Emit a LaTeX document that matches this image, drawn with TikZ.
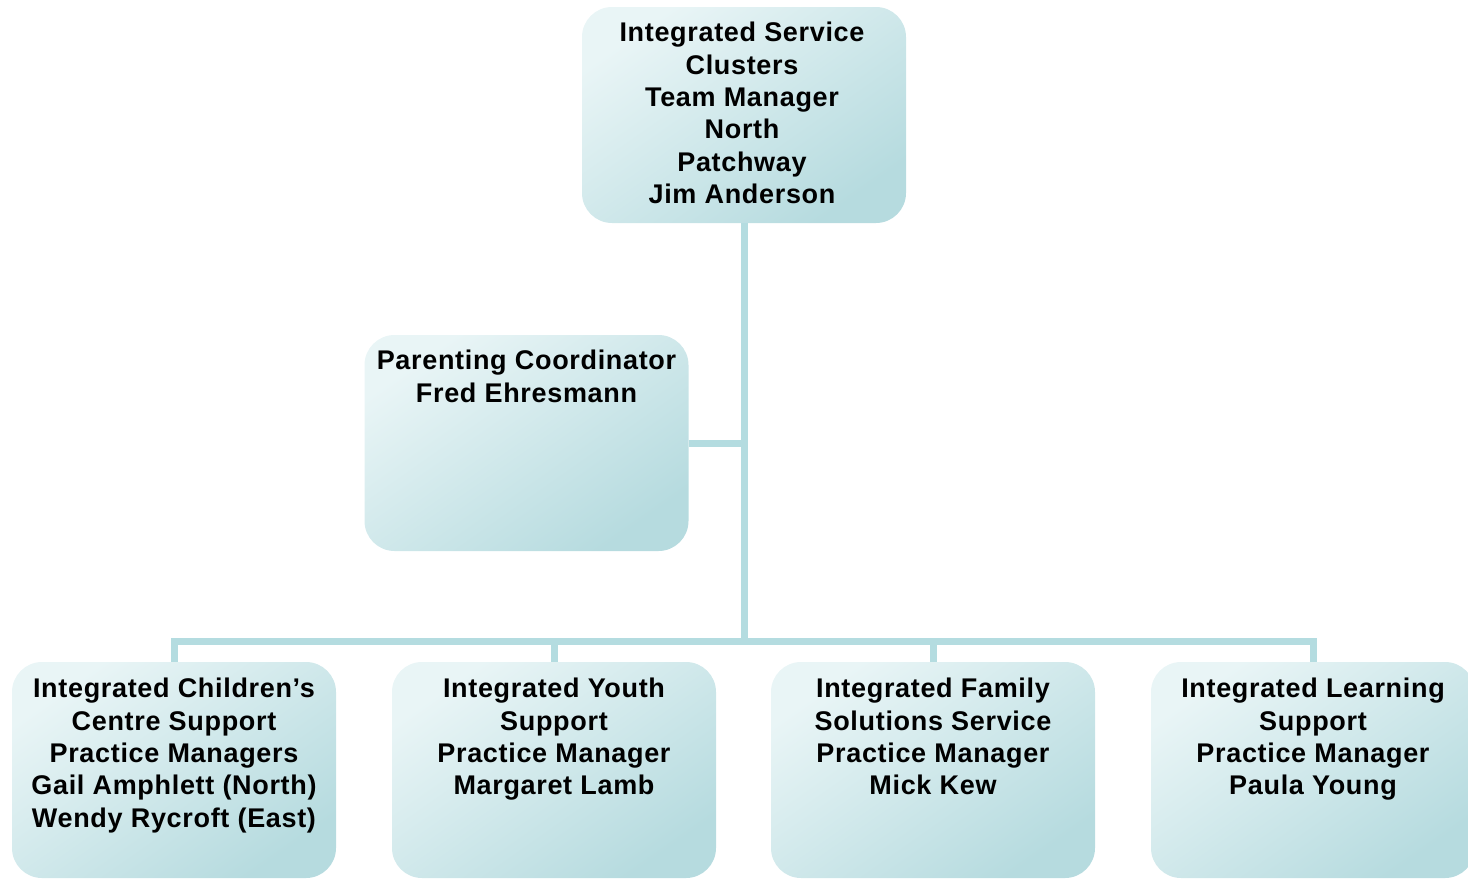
\documentclass[tikz,border=0pt]{standalone}
\usepackage{fontspec}
\setmainfont{Liberation Sans}[LetterSpace=2.5]
\definecolor{lineC}{HTML}{B4DCE0}
\definecolor{lightC}{HTML}{E9F5F6}
\definecolor{darkC}{HTML}{B6DBDF}
\begin{document}
\begin{tikzpicture}[x=1pt,y=-1pt,
  orgbox/.style={rectangle, rounded corners=30pt, minimum width=324pt, minimum height=216pt,
     inner sep=0pt, top color=lightC, bottom color=darkC, shading angle=35, draw=none},
  boxtext/.style={font=\fontsize{27}{32.4}\selectfont\bfseries, align=center, anchor=north, inner sep=0pt},
  conn/.style={draw=lineC, line width=7pt}]
\useasboundingbox (0,0) rectangle (1468,879);
\begin{scope}
\clip (0,0) rectangle (1468,879);
\coordinate (bus) at (744,641);
\node[orgbox] (top) at (744,115) {};
\node[orgbox] (par) at (526.5,443) {};
\node[orgbox] (b1) at (174,770) {};
\node[orgbox] (b2) at (554,770) {};
\node[orgbox] (b3) at (933,770) {};
\node[orgbox] (b4) at (1313,770) {};
\end{scope}
% connectors
\draw[conn] (top.south) -- (bus);
\draw[conn] (par.east) -- (par.east -| top.south);
\draw[conn] (b1.north) -- (b1.north |- bus) -- (b4.north |- bus) -- (b4.north);
\draw[conn] (b2.north) -- (b2.north |- bus);
\draw[conn] (b3.north) -- (b3.north |- bus);
% texts
\node[boxtext] (ttop) at (742,22) {Integrated Service\\Clusters\\Team Manager\\North\\Patchway\\Jim Anderson};
\node[boxtext] (tpar) at (526.5,350) {Parenting Coordinator\\Fred Ehresmann};
\node[boxtext] (tb1) at (174,678) {Integrated Children’s\\Centre Support\\Practice Managers\\Gail Amphlett (North)\\Wendy Rycroft (East)};
\node[boxtext] (tb2) at (554,678) {Integrated Youth\\Support\\Practice Manager\\Margaret Lamb};
\node[boxtext] (tb3) at (933,678) {Integrated Family\\Solutions Service\\Practice Manager\\Mick Kew};
\node[boxtext] (tb4) at (1313,678) {Integrated Learning\\Support\\Practice Manager\\Paula Young};
\end{tikzpicture}
\end{document}
